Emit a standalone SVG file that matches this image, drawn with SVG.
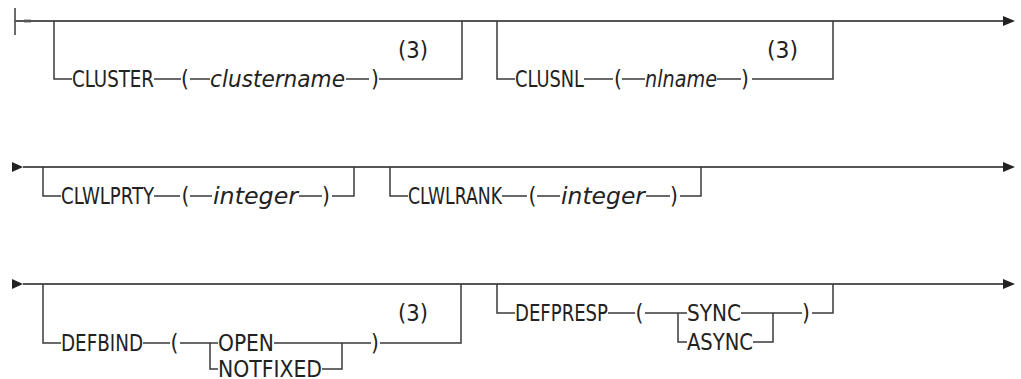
<svg xmlns="http://www.w3.org/2000/svg" width="1021" height="379" viewBox="0 0 1021 379">
<style>
text{font-family:"DejaVu Sans Condensed","DejaVu Sans",sans-serif;font-size:22.5px;fill:#222;}
.v{font-style:italic;}
.r{fill:none;stroke:#3a3a3a;stroke-width:1.5;}
.m{fill:none;stroke:#555;stroke-width:2;}
.a{fill:#222;stroke:none;}
</style>
<rect width="1021" height="379" fill="#fff"/>
<g id="connectors">
<path class="r" d="M15,8V35"/>
<path d="M24,21H31" stroke="#222" stroke-width="2.6"/>
<path class="m" d="M15,21H1004"/>
<polygon class="a" points="1003,16 1015,21 1003,26"/>
<path class="r" d="M54,21V79H72M154,79H181M190,79H210M346,79H369M379,79H462V21"/>
<path class="r" d="M497,21V79H515M584,79H613M622,79H645M717,79H741M752,79H833V21"/>
<polygon class="a" points="12,162 23,167 12,172"/>
<path class="m" d="M23,167H1004"/>
<polygon class="a" points="1003,162 1015,167 1003,172"/>
<path class="r" d="M43,167V196H61M154,196H180M190,196H212M299,196H322M332,196H354V167"/>
<path class="r" d="M390,167V196H408M502,196H527M537,196H560M646,196H670M680,196H701V167"/>
<polygon class="a" points="12,279 23,284 12,289"/>
<path class="m" d="M23,284H1004"/>
<polygon class="a" points="1003,279 1015,284 1003,289"/>
<path class="r" d="M43,284V343H61M143,343H170M180,343H218M210,343V369H218M274,343H371M322,369H342V343M380,343H461V284"/>
<path class="r" d="M497,284V313H515M608,313H635M645,313H687M678,313V342H687M741,313H802M753,342H773V313M812,313H833V284"/>
</g>
<g id="cluster"><text x="72" y="87" textLength="82" lengthAdjust="spacingAndGlyphs">CLUSTER</text><text x="181" y="87">(</text><text class="v" x="210" y="87" textLength="135" lengthAdjust="spacingAndGlyphs">clustername</text><text x="371" y="87">)</text></g>
<g id="note-cluster"><text x="398" y="58" textLength="30" lengthAdjust="spacingAndGlyphs">(3)</text></g>
<g id="clusnl"><text x="515" y="87" textLength="69" lengthAdjust="spacingAndGlyphs">CLUSNL</text><text x="614" y="87">(</text><text class="v" x="645" y="87" textLength="72" lengthAdjust="spacingAndGlyphs">nlname</text><text x="741" y="87">)</text></g>
<g id="note-clusnl"><text x="767" y="58" textLength="31" lengthAdjust="spacingAndGlyphs">(3)</text></g>
<g id="clwlprty"><text x="61" y="204" textLength="93" lengthAdjust="spacingAndGlyphs">CLWLPRTY</text><text x="181.5" y="204">(</text><text class="v" x="213" y="204" textLength="85" lengthAdjust="spacingAndGlyphs">integer</text><text x="322" y="204">)</text></g>
<g id="clwlrank"><text x="408" y="204" textLength="94" lengthAdjust="spacingAndGlyphs">CLWLRANK</text><text x="528.5" y="204">(</text><text class="v" x="561" y="204" textLength="84" lengthAdjust="spacingAndGlyphs">integer</text><text x="670" y="204">)</text></g>
<g id="defbind"><text x="61" y="351" textLength="82" lengthAdjust="spacingAndGlyphs">DEFBIND</text><text x="170.5" y="351">(</text><text x="218" y="351" textLength="56" lengthAdjust="spacingAndGlyphs">OPEN</text><text x="218" y="376.5" textLength="104" lengthAdjust="spacingAndGlyphs">NOTFIXED</text><text x="371" y="351">)</text></g>
<g id="note-defbind"><text x="398" y="320.5" textLength="30" lengthAdjust="spacingAndGlyphs">(3)</text></g>
<g id="defpresp"><text x="515" y="321" textLength="93" lengthAdjust="spacingAndGlyphs">DEFPRESP</text><text x="635.5" y="321">(</text><text x="687" y="321" textLength="54" lengthAdjust="spacingAndGlyphs">SYNC</text><text x="687" y="350" textLength="66" lengthAdjust="spacingAndGlyphs">ASYNC</text><text x="802" y="321">)</text></g>
</svg>
